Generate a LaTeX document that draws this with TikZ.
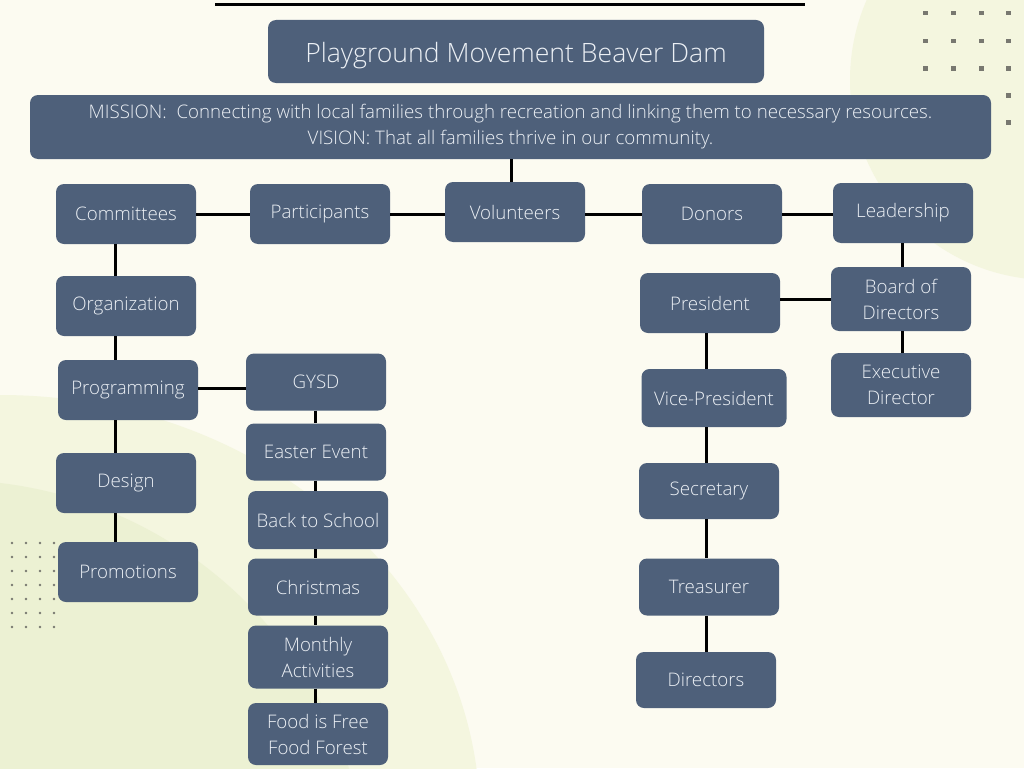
\documentclass[tikz,border=0pt]{standalone}
\usepackage{fontspec}
\setmainfont{Open Sans Light}

\definecolor{cream}{RGB}{252,251,241}
\definecolor{blobpale}{RGB}{244,246,223}
\definecolor{blobgreen}{RGB}{236,241,211}
\definecolor{slate}{RGB}{78,96,122}
\definecolor{paletext}{RGB}{236,240,245}
\definecolor{dotgrey}{RGB}{120,120,112}

\tikzset{
  unit/.style={rectangle, rounded corners=8pt, fill=slate, text=paletext,
    minimum width=140pt, minimum height=60pt, align=center, inner sep=2pt,
    font=\fontsize{18.7}{26}\selectfont},
  link/.style={line width=3pt, black},
}

\begin{document}
\begin{tikzpicture}[x=1pt,y=-1pt]

  % background, blobs and dots
  \fill[cream] (0,0) rectangle (1024,768);
  \begin{scope}
    \clip (0,0) rectangle (1024,768);
    \fill[blobpale] (1050,80) circle (200);
    \fill[blobpale] (0,820) ellipse (480 and 425);
    \fill[blobgreen] (-50,900) circle (420);
  \end{scope}
  \foreach \px in {925,953,981,1008}
    \foreach \py in {13,41,68}
      \fill[dotgrey] (\px-2,\py-2) rectangle ++(4.5,4.5);
  \foreach \py in {95,122}
    \fill[dotgrey] (1006,\py-2) rectangle ++(4.5,4.5);
  \foreach \px in {12,26,40,54}
    \foreach \py in {543,557,...,627}
      \fill[dotgrey] (\px,\py) circle (1.4);

  \draw[line width=3pt] (215,5) -- (805,5);

  \coordinate (lspine) at (115,0);
  \coordinate (mspine) at (315,0);
  \coordinate (pspine) at (706,0);
  \coordinate (bspine) at (902,0);

  % header
  \node[unit, minimum width=496pt, minimum height=63pt,
        text height=23pt, text depth=1.5pt,
        font=\fontsize{26.6}{28}\selectfont] (title) at (516,51.5)
      {Playground Movement Beaver Dam};
  \node[unit, minimum width=961pt, minimum height=64pt,
        font=\fontsize{18.7}{26}\selectfont] (mission) at (510.5,127)
      {MISSION:~ Connecting with local families through recreation and linking them to necessary resources.\\
       VISION: That all families thrive in our community.};

  % first row
  \node[unit] (committees)   at (126,214) {Committees};
  \node[unit] (participants) at (320,214) {Participants};
  \node[unit] (volunteers)   at (515,212) {Volunteers};
  \node[unit] (donors)       at (712,214) {Donors};
  \node[unit] (leadership)   at (903,213) {Leadership};

  % left column
  \node[unit] (organization) at (126,306) {Organization};
  \node[unit] (programming)  at (128,390) {Programming};
  \node[unit] (design)       at (126,483) {Design};
  \node[unit] (promotions)   at (128,572) {Promotions};

  % events
  \node[unit, minimum height=57pt] (gysd)    at (316,382) {GYSD};
  \node[unit, minimum height=57pt] (easter)  at (316,452) {Easter Event};
  \node[unit, minimum height=58pt] (school)  at (318,520) {Back to School};
  \node[unit, minimum height=57pt] (xmas)    at (318,587) {Christmas};
  \node[unit, minimum height=63pt] (monthly) at (318,657) {Monthly\\Activities};
  \node[unit, minimum height=62pt] (food)    at (318,734) {Food is Free\\Food Forest};

  % officers
  \node[unit] (president)    at (710,303) {President};
  \node[unit, minimum width=145pt, minimum height=58pt] (vice) at (714,398) {Vice-President};
  \node[unit, minimum height=56pt] (secretary) at (709,491) {Secretary};
  \node[unit, minimum height=57pt] (treasurer) at (709,587) {Treasurer};
  \node[unit, minimum height=56pt] (directors) at (706,680) {Directors};

  \node[unit, minimum height=64pt] (board) at (901,299) {Board of\\Directors};
  \node[unit, minimum height=64pt] (exec)  at (901,385) {Executive\\Director};

  % connectors
  \draw[link] (mission.south -| 511,0) -- (volunteers.north -| 511,0);
  \draw[link] (committees.east) -- (participants.west);
  \draw[link] (participants.east) -- (volunteers.west |- participants.east);
  \draw[link] (volunteers.east |- donors.west) -- (donors.west);
  \draw[link] (donors.east) -- (leadership.west |- donors.east);

  \foreach \a/\b in {committees/organization, organization/programming,
                     programming/design, design/promotions}
    \draw[link] (\a.south -| lspine) -- (\b.north -| lspine);
  \draw[link] (programming.east |- 0,388) -- (gysd.west |- 0,388);
  \foreach \a/\b in {gysd/easter, easter/school, school/xmas,
                     xmas/monthly, monthly/food}
    \draw[link] (\a.south -| mspine) -- (\b.north -| mspine);

  \foreach \a/\b in {president/vice, vice/secretary, secretary/treasurer,
                     treasurer/directors}
    \draw[link] (\a.south -| pspine) -- (\b.north -| pspine);
  \draw[link] (board.west -| president.east) -- (board.west);
  \foreach \a/\b in {leadership/board, board/exec}
    \draw[link] (\a.south -| bspine) -- (\b.north -| bspine);

  \useasboundingbox (0,0) rectangle (1024,768);
\end{tikzpicture}
\end{document}
